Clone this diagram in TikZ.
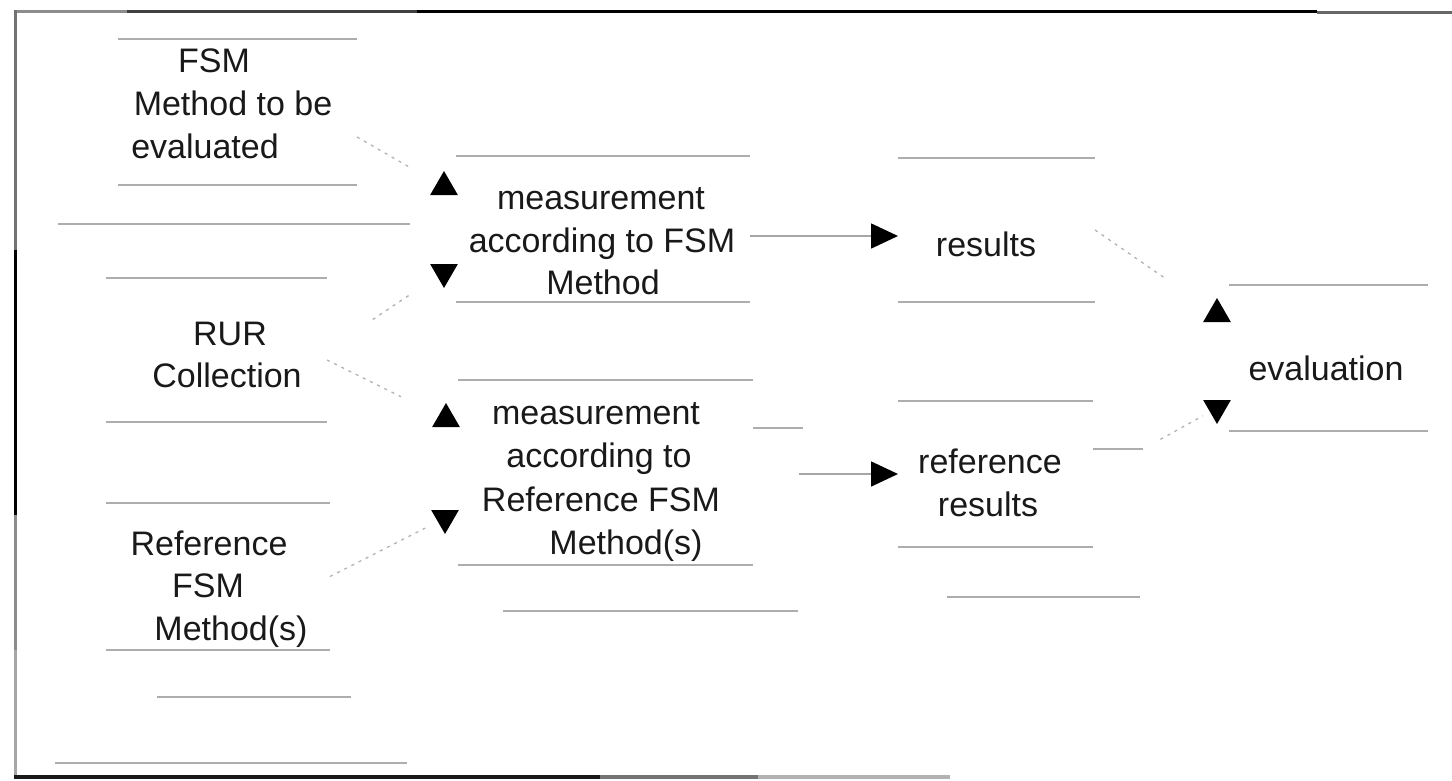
\documentclass[tikz,border=0pt]{standalone}
\usepackage{fontspec}
\setmainfont{Liberation Sans}
\usetikzlibrary{shapes.geometric,arrows.meta}
\begin{document}
\begin{tikzpicture}[x=1pt,y=-1pt,
  boxarea/.style={draw=none,inner sep=0pt,outer sep=0pt},
  txt/.style={anchor=base,inner sep=0pt,font=\fontsize{34}{43}\selectfont,text=black!90},
  rule/.style={draw=black!32,line width=1.3pt},
  faint/.style={draw=black!30,line width=1.3pt,dash pattern=on 3pt off 5pt},
  marker up/.style={regular polygon,regular polygon sides=3,fill=black,draw=none,minimum size=32pt,inner sep=0pt},
  marker down/.style={marker up,regular polygon rotate=180},
  flow/.style={draw=black!35,line width=1.6pt,-{Triangle[length=27pt,width=25pt,color=black]}}]
\useasboundingbox (0,0) rectangle (1452,780);

% frame
\draw[black!45,line width=3pt] (14,11) -- (127,11);
\draw[black!75,line width=3pt] (127,11) -- (417,11);
\draw[black,line width=3pt] (417,11) -- (1317,11);
\draw[black!60,line width=3pt] (1317,12) -- (1452,12);
\draw[black!55,line width=3pt] (15,10) -- (15,250);
\draw[black,line width=3pt] (15,250) -- (15,515);
\draw[black!45,line width=3pt] (15,515) -- (15,650);
\draw[black!35,line width=3pt] (15,650) -- (15,778);
\draw[black!90,line width=4pt] (14,777) -- (600,777);
\draw[black!55,line width=4pt] (600,777) -- (758,777);
\draw[black!30,line width=4pt] (758,777) -- (950,777);

% boxes (only their top and bottom edges are drawn)
\node[boxarea,minimum width=239pt,minimum height=146pt] (fsm)  at (237.5,112) {};
\node[boxarea,minimum width=221pt,minimum height=144pt] (rur)  at (216.5,350) {};
\node[boxarea,minimum width=224pt,minimum height=147pt] (ref)  at (218,576.5) {};
\node[boxarea,minimum width=294pt,minimum height=146pt] (m1)   at (603,229) {};
\node[boxarea,minimum width=295pt,minimum height=185pt] (m2)   at (605.5,472.5) {};
\node[boxarea,minimum width=197pt,minimum height=144pt] (res)  at (996.5,230) {};
\node[boxarea,minimum width=195pt,minimum height=146pt] (rres) at (995.5,474) {};
\node[boxarea,minimum width=199pt,minimum height=146pt] (eval) at (1328.5,358) {};
\foreach \b in {fsm,rur,ref,m1,m2,res,rres,eval}{
  \draw[rule] (\b.north west) -- (\b.north east);
  \draw[rule] (\b.south west) -- (\b.south east);
}

% loose rules
\draw[rule] (58,224) -- (410,224);
\draw[rule] (157,697) -- (351,697);
\draw[rule] (55,763) -- (407,763);
\draw[rule] (503,611) -- (798,611);
\draw[rule] (947,597) -- (1140,597);

% texts
\node[txt] (fsmA) at (214,72) {FSM};
\node[txt] (fsmB) at (233,115) {Method to be};
\node[txt] (fsmC) at (205,158) {evaluated};
\node[txt] (rurA) at (230,345) {RUR};
\node[txt] (rurB) at (227,387) {Collection};
\node[txt] (refA) at (209,555) {Reference};
\node[txt] (refB) at (208,597) {FSM};
\node[txt] (refC) at (231,640) {Method(s)};
\node[txt] (m1A) at (601,209) {measurement};
\node[txt] (m1B) at (602,252) {according to FSM};
\node[txt] (m1C) at (603,294) {Method};
\node[txt] (m2A) at (596,424) {measurement};
\node[txt] (m2B) at (599,467) {according to};
\node[txt] (m2C) at (601,511) {Reference FSM};
\node[txt] (m2D) at (626,554) {Method(s)};
\node[txt] (resA) at (986,256) {results};
\node[txt] (rresA) at (990,473) {reference};
\node[txt] (rresB) at (988,516) {results};
\node[txt] (evalA) at (1326,380) {evaluation};

% markers
\node[marker up]   (m1up)   at (444,187) {};
\node[marker down] (m1down) at (444,272) {};
\node[marker up]   (m2up)   at (446,419) {};
\node[marker down] (m2down) at (445,518) {};
\node[marker up]   (evup)   at (1217,314) {};
\node[marker down] (evdown) at (1217,408) {};

% connectors
\draw[faint,shorten >=32pt] ([yshift=-25pt]fsm.east) -- (m1up);
\draw[faint,shorten <=55pt,shorten >=30pt] (rur.east) -- (m1down);
\draw[faint,shorten >=42pt] ([yshift=-10pt]rur.east) -- (m2up);
\draw[faint,shorten >=14pt] (ref.east) -- (m2down);
\draw[flow] ([yshift=-7pt]m1.east) -- ([yshift=-6pt]res.west);
\draw[rule] ([yshift=44.5pt]m2.east) -- ++(50pt,0);
\draw[flow,shorten <=46pt] (m2.east |- rres.west) -- (rres.west);
\draw[faint,shorten >=55pt] (res.east) -- (evup);
\draw[rule] ([yshift=25pt]rres.east) -- ++(50pt,0) coordinate (rbend);
\draw[faint,shorten <=20pt,shorten >=8pt] (rbend) -- (evdown);
\end{tikzpicture}
\end{document}
